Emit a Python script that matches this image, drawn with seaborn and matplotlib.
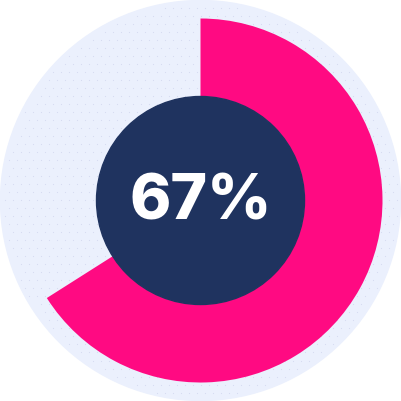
import matplotlib
matplotlib.use("Agg")
import matplotlib.pyplot as plt
import seaborn as sns
import numpy as np

# data
labels = ["Done", "Remaining"]
values = [66, 34]
center_text = "67%"

pink = "#FF0A82"
navy = "#1F335F"
track = "#EBF0FD"
dot = "#D5DAF1"

sns.set_theme(style="white")
plt.rcParams["font.family"] = ["Inter", "Lato", "DejaVu Sans"]

fig = plt.figure(figsize=(4.01, 4.01), dpi=100)
ax = fig.add_axes([0, 0, 1, 1])
ax.set_aspect("equal")
ax.axis("off")

# light background disc
ax.add_patch(plt.Circle((0, 0), 1.0, color=track, zorder=0))

# faint dot texture inside the disc
g = np.arange(-1, 1.001, 0.04)
gx, gy = np.meshgrid(g, g)
gx[1::2] += 0.02
inside = gx**2 + gy**2 < 0.97
ax.scatter(gx[inside], gy[inside], s=0.6, color=dot, linewidths=0, zorder=1)

# progress ring
ax.pie(values, radius=0.91, startangle=90, counterclock=False,
       colors=[pink, "none"],
       wedgeprops=dict(width=0.91 - 0.52, linewidth=0))

# dark centre
ax.add_patch(plt.Circle((0, 0), 0.52, color=navy, zorder=5))
ax.text(0, -0.01, center_text, ha="center", va="center", color="white",
        fontsize=45, fontweight="heavy", zorder=6)

ax.set_xlim(-1.0025, 1.0025)
ax.set_ylim(-1.0025, 1.0025)
fig.savefig("out.png", dpi=100, facecolor="white")
